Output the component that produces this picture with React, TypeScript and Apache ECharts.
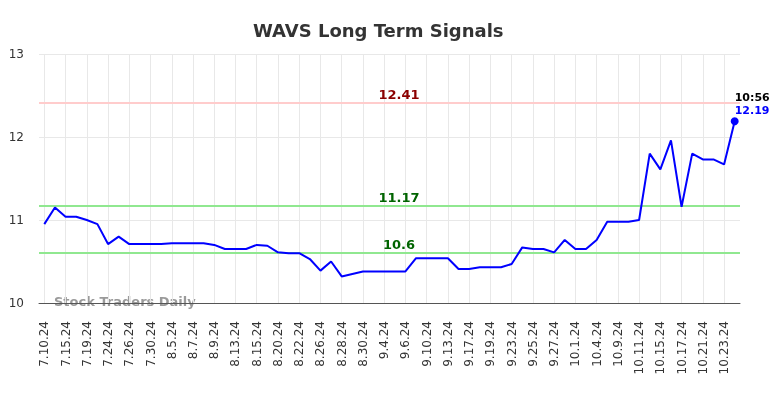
import React, { useEffect, useRef } from "react";
import * as echarts from "echarts";

const dates = ['7.10.24','7.11.24','7.15.24','7.16.24','7.19.24','7.22.24','7.24.24','7.25.24','7.26.24','7.29.24','7.30.24','8.1.24','8.5.24','8.6.24','8.7.24','8.8.24','8.9.24','8.12.24','8.13.24','8.14.24','8.15.24','8.16.24','8.20.24','8.21.24','8.22.24','8.23.24','8.26.24','8.27.24','8.28.24','8.29.24','8.30.24','9.3.24','9.4.24','9.5.24','9.6.24','9.9.24','9.10.24','9.11.24','9.13.24','9.16.24','9.17.24','9.18.24','9.19.24','9.20.24','9.23.24','9.24.24','9.25.24','9.26.24','9.27.24','9.30.24','10.1.24','10.2.24','10.4.24','10.7.24','10.9.24','10.10.24','10.11.24','10.14.24','10.15.24','10.16.24','10.17.24','10.18.24','10.21.24','10.22.24','10.23.24','10.24.24'];

const prices = [10.95,11.15,11.04,11.04,11.00,10.95,10.71,10.80,10.71,10.71,10.71,10.71,10.72,10.72,10.72,10.72,10.70,10.65,10.65,10.65,10.70,10.69,10.61,10.60,10.60,10.53,10.39,10.50,10.32,10.35,10.38,10.38,10.38,10.38,10.38,10.54,10.54,10.54,10.54,10.41,10.41,10.43,10.43,10.43,10.47,10.67,10.65,10.65,10.61,10.76,10.65,10.65,10.76,10.98,10.98,10.98,11.00,11.80,11.61,11.96,11.16,11.80,11.73,11.73,11.67,12.19];

const resistanceLevel = 12.41;
const supportLevels = [11.17, 10.6];
const lastTime = "10:56";
const yTicks = { min: 10, max: 13, interval: 1 };

export default function App() {
  const ref = useRef<HTMLDivElement>(null);
  useEffect(() => {
    if (!ref.current) return;
    const chart = echarts.init(ref.current, null, { renderer: "svg" });
    const lastIdx = prices.length - 1;
    const font = "DejaVu Sans";
    chart.setOption({
      animation: false,
      title: {
        text: "WAVS Long Term Signals",
        left: 248,
        top: 16,
        textStyle: { fontFamily: font, fontSize: 18, fontWeight: "bold", color: "#333" },
      },
      grid: { left: 39, right: 44, top: 54, bottom: 95 },
      xAxis: {
        type: "category",
        data: dates,
        boundaryGap: true,
        axisLine: { lineStyle: { color: "#555", width: 1 } },
        axisTick: { show: false },
        axisLabel: {
          interval: 1,
          rotate: 90,
          margin: 18,
          fontFamily: font,
          fontSize: 12,
          color: "#333",
        },
        splitLine: { show: true, interval: 1, alignWithLabel: true, lineStyle: { color: "#e8e8e8", width: 1 } },
      },
      yAxis: {
        type: "value",
        min: yTicks.min,
        max: yTicks.max,
        interval: yTicks.interval,
        axisLine: { show: false },
        axisTick: { show: false },
        axisLabel: { margin: 15, fontFamily: font, fontSize: 12, color: "#333" },
        splitLine: { lineStyle: { color: "#e8e8e8", width: 1 } },
      },
      graphic: [
        {
          type: "text",
          left: 54,
          top: 295,
          z: 0,
          style: {
            text: "Stock Traders Daily",
            fontFamily: font,
            fontSize: 13,
            fontWeight: "bold",
            fill: "rgba(120,120,120,0.75)",
          },
        },
      ],
      series: [
        {
          type: "line",
          data: prices,
          symbol: "none",
          lineStyle: { color: "#0000ff", width: 2 },
          z: 3,
          markLine: {
            silent: true,
            symbol: "none",
            z: 2,
            data: [
              {
                yAxis: resistanceLevel,
                lineStyle: { color: "#ffcccc", width: 2, type: "solid" },
                label: { color: "#8b0000" },
              },
              ...supportLevels.map((v) => ({
                yAxis: v,
                lineStyle: { color: "#90e890", width: 2, type: "solid" },
                label: { color: "#006400" },
              })),
            ],
            label: {
              show: true,
              position: "insideMiddleTop",
              distance: 2,
              padding: [0, 0, 0, 19],
              fontFamily: font,
              fontSize: 13,
              fontWeight: "bold",
              formatter: (p: any) => String(p.value),
            },
          },
          markPoint: {
            silent: true,
            symbol: "circle",
            symbolSize: 8,
            itemStyle: { color: "#0000ff" },
            data: [{ coord: [lastIdx, prices[lastIdx]], value: prices[lastIdx] }],
            label: {
              show: true,
              position: [4, -26],
              align: "left",
              verticalAlign: "top",
              formatter: () => `{t|${lastTime}}\n{v|${prices[lastIdx]}}`,
              rich: {
                t: { fontFamily: font, fontSize: 11, fontWeight: "bold", color: "#000", lineHeight: 13 },
                v: { fontFamily: font, fontSize: 11, fontWeight: "bold", color: "#0000ff", lineHeight: 13 },
              },
            },
          },
        },
      ],
    });
    return () => chart.dispose();
  }, []);
  return (
    <div
      ref={ref}
      style={{ position: "fixed", left: 0, top: 0, width: 784, height: 398 }}
    />
  );
}
